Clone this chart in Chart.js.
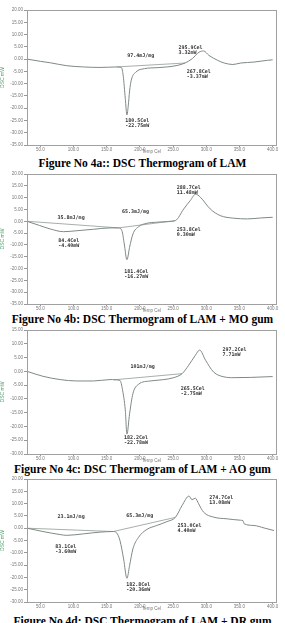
<!DOCTYPE html>
<html>
<head>
<meta charset="utf-8">
<script src="https://cdn.jsdelivr.net/npm/chart.js@4/dist/chart.umd.min.js"></script>
<style>
  body { margin: 0; background: #fff; width: 285px; height: 623px; overflow: hidden; position: relative; }
  .box { position: absolute; left: 0; width: 285px; }
  .cap { position: absolute; left: 0; width: 285px; text-align: center; font: bold 11.5px "Liberation Serif", "Times New Roman", serif; color: #000; white-space: nowrap; }
</style>
</head>
<body>
<div class="box" style="top:6px;height:148px"><canvas id="c1"></canvas></div>
<div class="cap" style="top:157px">Figure No 4a:: DSC Thermogram of LAM</div>
<div class="box" style="top:170px;height:143px"><canvas id="c2"></canvas></div>
<div class="cap" style="top:313px">Figure No 4b: DSC Thermogram of LAM + MO gum</div>
<div class="box" style="top:326px;height:137px"><canvas id="c3"></canvas></div>
<div class="cap" style="top:463px">Figure No 4c: DSC Thermogram of LAM + AO gum</div>
<div class="box" style="top:475px;height:136px"><canvas id="c4"></canvas></div>
<div class="cap" style="top:615px">Figure No 4d: DSC Thermogram of LAM + DR gum</div>
<script>
// x axis labels (Temp Cel)
var xTicks = [50, 100, 150, 200, 250, 300, 350, 400];

// 4a: LAM
var lamTemp = [30, 50, 65, 90, 115, 140, 165, 172, 175, 178, 180.5, 182.5, 184.5, 187, 194, 207, 226, 241, 256, 268, 279, 289, 296, 304, 317, 327, 340, 352, 372, 392, 400];
var lamHeat = [0, -0.9, -1.5, -2.7, -3.2, -3.4, -3.2, -3.4, -7, -16, -22.75, -19, -13, -8.6, -5.3, -3.9, -3.5, -3.2, -2.6, -1.6, 0.2, 2.8, 3.32, 1.5, -0.5, -1.6, -2.2, -1.6, -1.2, -0.5, -0.3];
var lamBaseT = [165, 268];
var lamBaseH = [-3.2, -1.6];

// 4b: LAM + MO gum
var moTemp = [30, 49, 65, 85, 105, 130, 155, 168, 173, 176.5, 180.5, 184.5, 189.5, 198, 210.5, 225.5, 241, 253.5, 266, 276, 284, 291, 306, 321, 341.5, 362, 382, 400];
var moHeat = [0, -1.8, -3.25, -4.4, -4, -3.4, -2.8, -2.8, -4, -9.6, -16.27, -11, -5.4, -2.3, -0.85, -0.4, -0.15, 0.3, 5.2, 8.8, 11.48, 10.2, 5.2, 2.4, 1.3, 1.0, 1.4, 1.7];
var moBaseT = [30, 168, 253.5];
var moBaseH = [0, -2.8, 0.3];

// 4c: LAM + AO gum
var aoTemp = [30, 54, 80, 105, 130, 155, 170, 174, 178, 180.5, 184.5, 189.5, 198, 215.5, 236, 251, 263.5, 273.5, 283.5, 290, 299, 311, 326.5, 341.5, 367, 400];
var aoHeat = [0, -1.8, -3, -3.5, -3.5, -3, -3.3, -6.9, -14, -22.78, -15.4, -8.1, -4.7, -3.5, -3, -2.3, -0.85, 2.2, 5.8, 7.71, 4, -0.25, -2, -2.3, -2.2, -1.9];
var aoBaseT = [160, 263.5];
var aoBaseH = [-3.1, -0.85];

// 4d: LAM + DR gum
var drTemp = [30, 54, 80, 90, 115, 140, 160, 165, 170, 175.5, 180.5, 184.5, 189.5, 198, 210.5, 225.5, 241, 253.5, 263.5, 274, 278.5, 283.5, 288.5, 296, 311, 331.5, 351.5, 355.5, 357, 372, 387, 402];
var drHeat = [0, -1.35, -2.6, -2.9, -2.3, -1.6, -1.35, -1.9, -5, -12.5, -20.36, -15.2, -8.4, -3.7, -0.5, 1.1, 2.7, 4.4, 9.2, 13.08, 11.6, 12.2, 9.9, 6.5, 4.5, 3.8, 3.25, 3.0, 1.8, 1.1, 0.1, -0.95];
var drBaseT = [30, 160, 253.5];
var drBaseH = [0, -1.35, 4.4];

// peak labels [text, temp, mW]
var lamNotes = [["97.4mJ/mg", 181, 1.5], ["295.9Cel\n3.32mW", 258, 4.7], ["267.8Cel\n-3.37mW", 270.5, -5.0], ["180.5Cel\n-22.75mW", 178, -25.2]];
var moNotes = [["35.8mJ/mg", 76, 1.7], ["65.3mJ/mg", 173, 4.1], ["288.7Cel\n11.48mW", 255.5, 14], ["253.8Cel\n0.30mW", 255.5, -3.4], ["84.4Cel\n-4.40mW", 77, -8.2], ["181.4Cel\n-16.27mW", 176.5, -21.4]];
var aoNotes = [["101mJ/mg", 186, 1.8], ["297.2Cel\n7.71mW", 324.5, 7.9], ["265.5Cel\n-2.75mW", 261.5, -6.3], ["182.2Cel\n-22.78mW", 176, -24.1]];
var drNotes = [["23.1mJ/mg", 76, 4.5], ["65.3mJ/mg", 179.5, 5.1], ["274.7Cel\n13.08mW", 304.5, 12.6], ["253.0Cel\n4.40mW", 256.5, 1.1], ["83.1Cel\n-3.60mW", 72.5, -7.5], ["182.8Cel\n-20.36mW", 179.5, -22.9]];

function pts(t, h) {
  return t.map(function (v, i) { return { x: v, y: h[i] }; });
}

function range(a, b, s) {
  var out = [];
  for (var v = a; v >= b; v -= s) out.push(v);
  return out;
}

// frame + text labels
function notesPlugin(notes) {
  return {
    id: 'notes',
    afterDatasetsDraw: function (chart) {
      var ctx = chart.ctx, a = chart.chartArea;
      var xs = chart.scales.x, ys = chart.scales.y;
      ctx.save();
      ctx.strokeStyle = '#a0a0a0';
      ctx.lineWidth = 1;
      ctx.strokeRect(a.left + 0.5, a.top + 0.5, a.right - a.left, a.bottom - a.top);
      ctx.fillStyle = '#333';
      ctx.font = 'bold 5px "DejaVu Sans Mono", monospace';
      ctx.textBaseline = 'middle';
      notes.forEach(function (n) {
        var x = xs.getPixelForValue(n[1]);
        var y = ys.getPixelForValue(n[2]);
        n[0].split('\n').forEach(function (line, i) {
          ctx.fillText(line, x, y + i * 5);
        });
      });
      ctx.restore();
    }
  };
}

function makeChart(id, t, h, bt, bh, notes, ymax, ymin) {
  var yTicks = range(ymax, ymin, 5);
  return new Chart(document.getElementById(id), {
    type: 'line',
    data: {
      datasets: [
        { data: pts(t, h), borderColor: '#7d8a82', borderWidth: 1, pointRadius: 0, cubicInterpolationMode: 'monotone' },
        { data: pts(bt, bh), borderColor: '#8f9a93', borderWidth: 0.8, pointRadius: 0 }
      ]
    },
    options: {
      responsive: true,
      maintainAspectRatio: false,
      animation: false,
      layout: { padding: { left: 0, right: 9, top: 4, bottom: 0 } },
      plugins: { legend: { display: false }, tooltip: { enabled: false } },
      scales: {
        x: {
          type: 'linear', min: 30, max: 405,
          afterBuildTicks: function (s) { s.ticks = xTicks.map(function (v) { return { value: v }; }); },
          afterFit: function (s) { s.height = 9; },
          grid: { drawOnChartArea: false, tickLength: 2, color: '#999' },
          border: { color: '#999' },
          ticks: { padding: 0, maxRotation: 0, autoSkip: false, color: '#777', font: { size: 4.5 },
            callback: function (v) { return v.toFixed(1); } },
          title: { display: true, text: 'Temp Cel', color: '#777', font: { size: 4.5 }, padding: 0 }
        },
        y: {
          min: ymin, max: ymax,
          afterBuildTicks: function (s) { s.ticks = yTicks.map(function (v) { return { value: v }; }); },
          afterFit: function (s) { s.width = 27; },
          grid: { drawOnChartArea: false, tickLength: 3, color: '#999' },
          border: { color: '#999' },
          ticks: { padding: 1, autoSkip: false, color: '#777', font: { size: 4.5 },
            callback: function (v) { return v.toFixed(2); } },
          title: { display: true, text: 'DSC mW', color: '#4a9a6a', font: { size: 5 }, padding: 0 }
        }
      }
    },
    plugins: [notesPlugin(notes)]
  });
}

makeChart('c1', lamTemp, lamHeat, lamBaseT, lamBaseH, lamNotes, 20, -35);
makeChart('c2', moTemp, moHeat, moBaseT, moBaseH, moNotes, 20, -35);
makeChart('c3', aoTemp, aoHeat, aoBaseT, aoBaseH, aoNotes, 15, -30);
makeChart('c4', drTemp, drHeat, drBaseT, drBaseH, drNotes, 20, -30);
</script>
</body>
</html>
